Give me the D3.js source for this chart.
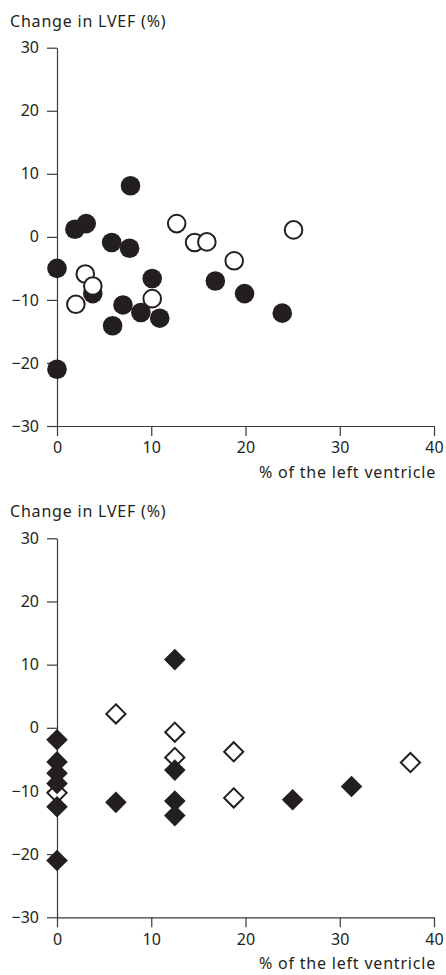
<!DOCTYPE html>
<html>
<head>
<meta charset="utf-8">
<script src="https://cdn.jsdelivr.net/npm/d3@7"></script>
<style>
  html, body { margin: 0; padding: 0; background: #fff; }
  svg text { font-family: "Noto Sans", "Open Sans", sans-serif; fill: #231f20; }
</style>
</head>
<body>
<svg id="chart" width="446" height="975"></svg>
<script>
// Top panel: change in LVEF against % of the left ventricle (circles)
const topFilledX = [0, 0, 1.9, 3.1, 3.8, 5.8, 5.9, 7.8, 7.7, 7.0, 8.9, 10.1, 10.9, 16.8, 19.9, 23.9];
const topFilledY = [-5.0, -21.0, 1.2, 2.1, -9.0, -0.9, -14.1, 8.1, -1.8, -10.8, -12.0, -6.6, -12.9, -7.0, -9.0, -12.1];
const topOpenX = [2.0, 3.0, 3.8, 10.1, 12.7, 14.6, 15.9, 18.8, 25.1];
const topOpenY = [-10.7, -5.9, -7.8, -9.8, 2.1, -0.9, -0.8, -3.8, 1.1];

// Bottom panel: same measures by segment share (diamonds)
const botFilledX = [12.5, 0, 0, 0, 0, 0, 0, 6.25, 12.5, 12.5, 12.5, 25, 31.25];
const botFilledY = [10.8, -1.9, -5.4, -7.2, -8.8, -12.5, -21.0, -11.8, -6.7, -11.6, -13.9, -11.4, -9.3];
const botOpenX = [0, 6.25, 12.5, 12.5, 18.75, 18.75, 37.5];
const botOpenY = [-10.3, 2.2, -0.7, -4.7, -3.8, -11.1, -5.5];

const xTicks = [0, 10, 20, 30, 40];
const yTicks = [30, 20, 10, 0, -10, -20, -30];
const yTitle = "Change in LVEF (%)";
const xTitle = "% of the left ventricle";

const svg = d3.select("#chart");
const ink = "#231f20";
const fontSize = 16;

function panel(cfg) {
  const g = svg.append("g");
  const x = d3.scaleLinear().domain([0, 40]).range([57, 434]);
  const y = d3.scaleLinear().domain([-30, 30]).range([cfg.yBottom, cfg.yTop]);

  const yAxis = g.append("g")
    .attr("transform", `translate(${x(0)},0)`)
    .call(d3.axisLeft(y).tickValues(yTicks).tickSize(10).tickSizeOuter(0).tickPadding(8));
  const xAxis = g.append("g")
    .attr("transform", `translate(0,${y(-30)})`)
    .call(d3.axisBottom(x).tickValues(xTicks).tickSize(10).tickSizeOuter(0).tickPadding(6));

  [yAxis, xAxis].forEach(a => {
    a.selectAll("path, line").attr("stroke", "#3a3a3a").attr("stroke-width", 1.2);
    a.selectAll("text")
      .style("font-family", '"Noto Sans", sans-serif')
      .style("font-size", fontSize + "px")
      .attr("fill", ink);
  });

  g.append("text")
    .attr("x", 10).attr("y", cfg.titleY)
    .style("font-size", fontSize + "px")
    .style("letter-spacing", "0.8px")
    .text(yTitle);
  g.append("text")
    .attr("x", 436).attr("y", y(-30) + 52)
    .attr("text-anchor", "end")
    .style("font-size", fontSize + "px")
    .style("letter-spacing", "0.8px")
    .text(xTitle);

  cfg.draw(g, x, y);
}

// top panel: filled circles first, open circles drawn over them
panel({
  yTop: 47.7, yBottom: 426, titleY: 26.5,
  draw(g, x, y) {
    g.append("g").selectAll("circle")
      .data(d3.zip(topFilledX, topFilledY)).join("circle")
      .attr("cx", d => x(d[0])).attr("cy", d => y(d[1]))
      .attr("r", 9.8).attr("fill", ink);
    g.append("g").selectAll("circle")
      .data(d3.zip(topOpenX, topOpenY)).join("circle")
      .attr("cx", d => x(d[0])).attr("cy", d => y(d[1]))
      .attr("r", 8.8).attr("fill", "#fff")
      .attr("stroke", ink).attr("stroke-width", 2);
  }
});

// bottom panel: open diamonds first, filled diamonds on top
function diamondPath(h) {
  return `M0,${-h}L${h},0L0,${h}L${-h},0Z`;
}
panel({
  yTop: 538.3, yBottom: 917.3, titleY: 517.3,
  draw(g, x, y) {
    g.append("g").selectAll("path")
      .data(d3.zip(botOpenX, botOpenY)).join("path")
      .attr("transform", d => `translate(${x(d[0])},${y(d[1])})`)
      .attr("d", diamondPath(9.6))
      .attr("fill", "#fff").attr("stroke", ink).attr("stroke-width", 2);
    g.append("g").selectAll("path")
      .data(d3.zip(botFilledX, botFilledY)).join("path")
      .attr("transform", d => `translate(${x(d[0])},${y(d[1])})`)
      .attr("d", diamondPath(10.8))
      .attr("fill", ink);
  }
});
</script>
</body>
</html>
